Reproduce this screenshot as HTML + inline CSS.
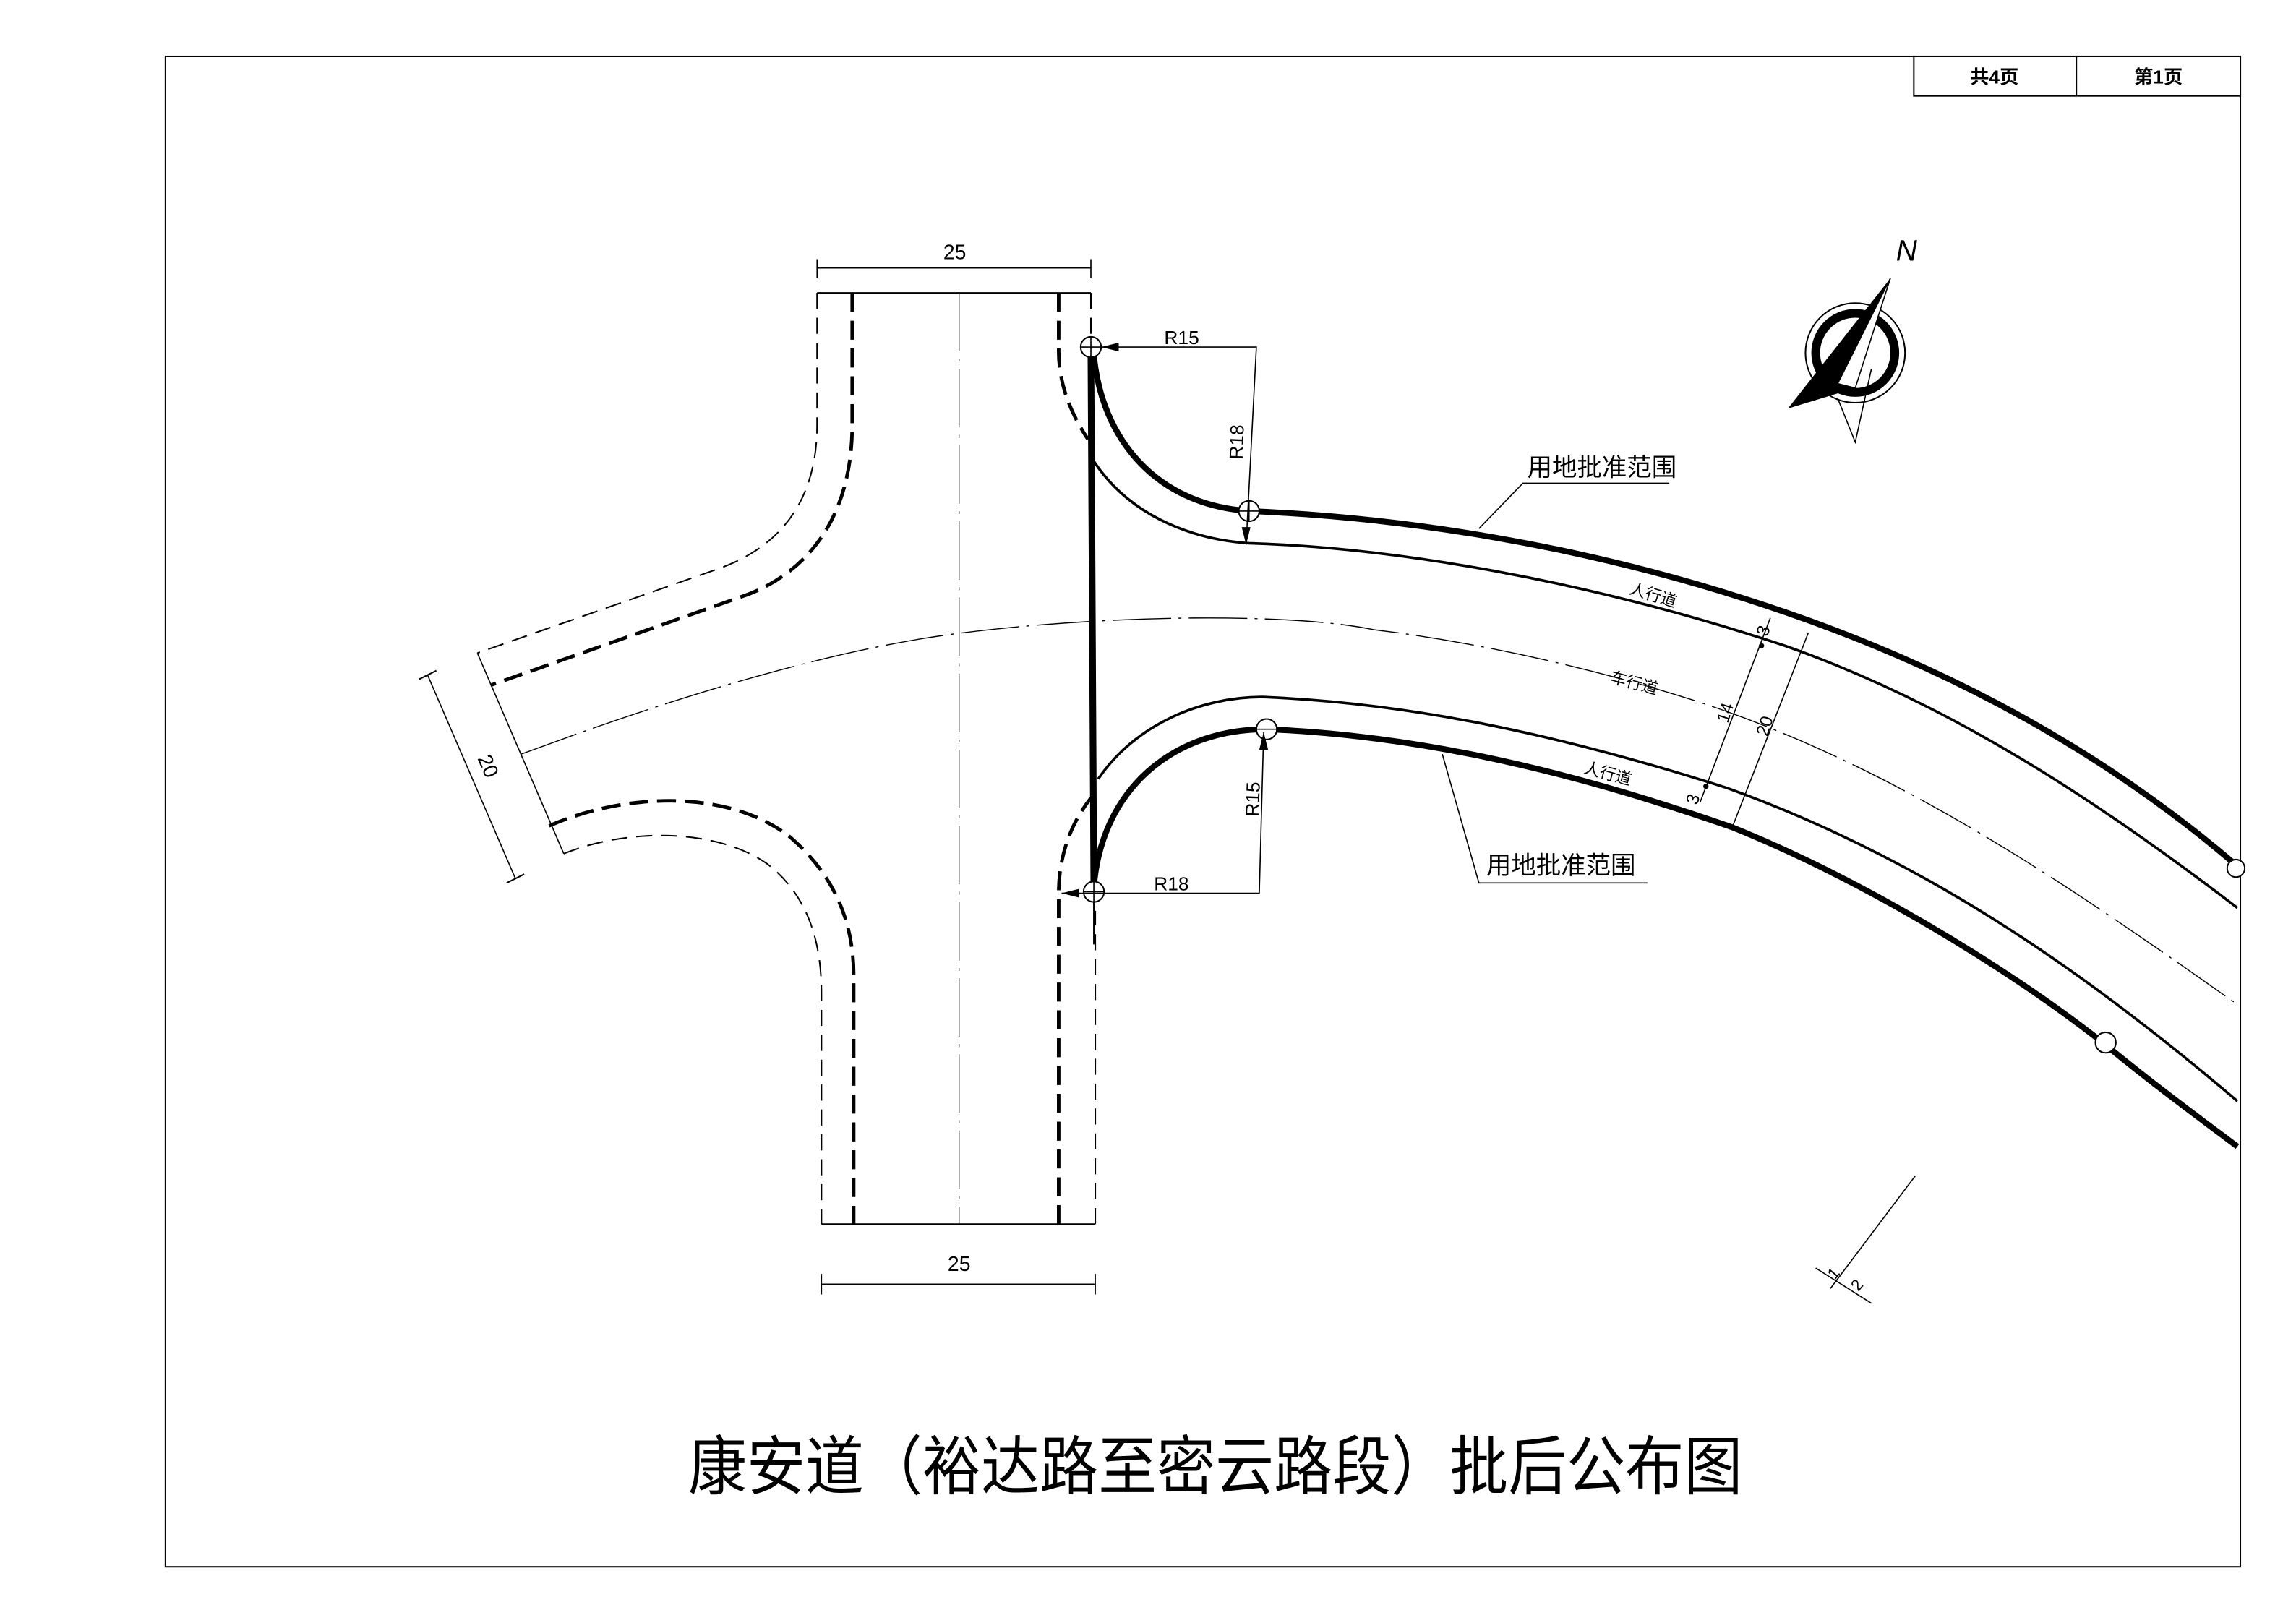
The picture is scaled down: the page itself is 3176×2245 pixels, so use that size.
<!DOCTYPE html>
<html><head><meta charset="utf-8"><style>
html,body{margin:0;padding:0;background:#fff;}
svg{display:block;}
text{font-family:"Liberation Sans","Noto Sans CJK SC",sans-serif;fill:#000;}
</style></head><body>
<svg width="3176" height="2245" viewBox="0 0 1568 1108.4" preserveAspectRatio="none" xmlns="http://www.w3.org/2000/svg">
<rect x="0" y="0" width="1568" height="1108.4" fill="#fff"/>
<rect x="113" y="38.5" width="1417" height="1031.5" fill="none" stroke="#000" stroke-width="1"/>
<rect x="1307" y="38.5" width="223" height="27" fill="none" stroke="#000" stroke-width="1"/>
<line x1="1418" y1="38.5" x2="1418" y2="65.5" stroke="#000" stroke-width="1"/>
<text x="1362" y="57" font-size="13" text-anchor="middle" font-weight="bold">共4页</text>
<text x="1474" y="57" font-size="13" text-anchor="middle" font-weight="bold">第1页</text>

<g fill="none" stroke="#000">
<line x1="558" y1="200" x2="745" y2="200" stroke-width="1"/>
<line x1="561" y1="836" x2="748" y2="836" stroke-width="1"/>
<line x1="655" y1="200" x2="655" y2="836" stroke-width="0.6" stroke-dasharray="40,5,2,5"/>
<line x1="558" y1="183" x2="745" y2="183" stroke-width="0.8"/>
<line x1="558" y1="177" x2="558" y2="190" stroke-width="0.8"/>
<line x1="745" y1="177" x2="745" y2="190" stroke-width="0.8"/>
<line x1="561" y1="877" x2="748" y2="877" stroke-width="0.8"/>
<line x1="561" y1="870" x2="561" y2="884" stroke-width="0.8"/>
<line x1="748" y1="870" x2="748" y2="884" stroke-width="0.8"/>
<path d="M558,200 L558,290 C558,345 530,375 489,389 L326,446" stroke-width="1" stroke-dasharray="11,6"/>
<path d="M582,200 L582,290 C582,360 545,395 505,408 L335,468" stroke-width="2.4" stroke-dasharray="13,6"/>
<path d="M375,564 C430,540 500,540 540,572 C570,598 583,630 583,666 L583,836" stroke-width="2.4" stroke-dasharray="13,6"/>
<path d="M385,583 C430,565 490,566 524,590 C550,610 561,640 561,678 L561,836" stroke-width="1" stroke-dasharray="11,6"/>
<path d="M326,446 L385,583" stroke-width="0.8"/>
<line x1="292" y1="461" x2="352" y2="600" stroke-width="0.8"/>
<line x1="286" y1="464" x2="298" y2="458" stroke-width="1"/>
<line x1="346" y1="603" x2="358" y2="597" stroke-width="1"/>
<path d="M723,200 L723,240 C723,262 731,282 743,300" stroke-width="2.4" stroke-dasharray="13,6"/>
<path d="M745,200 L745,232" stroke-width="1" stroke-dasharray="11,6"/>
<path d="M723,836 L723,610 C723,582 733,560 745,545" stroke-width="2.4" stroke-dasharray="13,6"/>
<path d="M748,836 L748,622" stroke-width="1" stroke-dasharray="11,6"/>
<path d="M356,515 C450,480 560,445 651,433 C750,420 880,418 938,430 C1020,440 1100,460 1159,479 C1300,525 1420,610 1528,686" stroke-width="0.7" stroke-dasharray="40,5,2,5"/>
<line x1="745" y1="240" x2="747" y2="606" stroke-width="4.5"/>
<line x1="747" y1="606" x2="747" y2="645" stroke-width="1"/>
<path d="M747,242 C752,300 790,345 853,349 C950,353 1080,370 1219,418 C1350,463 1450,525 1525,589" stroke-width="4"/>
<path d="M747,315 C770,350 810,368 853,371 C950,374 1080,395 1219,441 C1330,480 1430,545 1528,620" stroke-width="1.8"/>
<path d="M750,532 C775,495 820,476 862,476 C960,480 1060,500 1179,538 C1310,585 1420,660 1528,752" stroke-width="1.8"/>
<path d="M747,606 C752,540 800,498 865,498 C960,502 1060,522 1183,565 C1270,600 1370,660 1436,712 C1470,740 1500,762 1528,783" stroke-width="4"/>
<g stroke-width="1" fill="#fff">
<circle cx="745" cy="237" r="7"/><circle cx="853" cy="349" r="7"/>
<circle cx="865" cy="498" r="7"/><circle cx="747" cy="609" r="7"/>
<circle cx="1527" cy="593" r="6"/><circle cx="1438" cy="712" r="7"/>
</g>
<g stroke-width="0.8">
<line x1="738" y1="237" x2="752" y2="237"/><line x1="745" y1="230" x2="745" y2="244"/>
<line x1="846" y1="349" x2="860" y2="349"/><line x1="853" y1="342" x2="853" y2="356"/>
<line x1="858" y1="498" x2="872" y2="498"/>
<line x1="740" y1="609" x2="754" y2="609"/><line x1="747" y1="602" x2="747" y2="616"/>
<polyline points="752,237 858,237 851,372"/>
<polyline points="725,610 860,610 863,500"/>
</g>
</g>
<g fill="#000">
<polygon points="752,237 764,234 764,240"/>
<polygon points="851,372 848,360 854,360"/>
<polygon points="863,500 860,512 866,512"/>
<polygon points="725,610 737,607 737,613"/>
</g>
<text x="807" y="235" font-size="13" text-anchor="middle">R15</text>
<text x="800" y="608" font-size="13" text-anchor="middle">R18</text>
<text transform="translate(849,302) rotate(-88)" font-size="13" text-anchor="middle">R18</text>
<text transform="translate(860,546) rotate(-88)" font-size="13" text-anchor="middle">R15</text>
<text x="652" y="177" font-size="14" text-anchor="middle">25</text>
<text x="655" y="868" font-size="14" text-anchor="middle">25</text>
<text transform="translate(329,525) rotate(67)" font-size="14" text-anchor="middle">20</text>

<g stroke="#000" fill="none" stroke-width="0.8">
<line x1="1209" y1="422" x2="1161" y2="548"/>
<line x1="1235" y1="432" x2="1183" y2="565"/>
</g>
<circle cx="1203" cy="441" r="1.8"/><circle cx="1165" cy="537" r="1.8"/>
<text transform="translate(1208,432) rotate(-72)" font-size="12" text-anchor="middle">3</text>
<text transform="translate(1182,488) rotate(-72)" font-size="12" text-anchor="middle">14</text>
<text transform="translate(1209,497) rotate(-72)" font-size="12" text-anchor="middle">20</text>
<text transform="translate(1160,547) rotate(-72)" font-size="12" text-anchor="middle">3</text>
<text transform="translate(1128,410) rotate(17)" font-size="11" text-anchor="middle">人行道</text>
<text transform="translate(1115,470) rotate(15)" font-size="11" text-anchor="middle">车行道</text>
<text transform="translate(1097,532) rotate(15)" font-size="11" text-anchor="middle">人行道</text>
<g stroke="#000" fill="none" stroke-width="0.8">
<polyline points="1010,361 1040,330 1140,330"/>
<polyline points="985,515 1010,603 1125,603"/>
</g>
<text x="1094" y="325" font-size="17" text-anchor="middle">用地批准范围</text>
<text x="1066" y="597" font-size="17" text-anchor="middle">用地批准范围</text>

<circle cx="1267" cy="241" r="34" fill="none" stroke="#000" stroke-width="1"/>
<circle cx="1267" cy="241" r="27" fill="none" stroke="#000" stroke-width="6"/>
<polygon points="1291,190 1221,279 1267,265" fill="#000"/>
<polygon points="1291,190 1267,265 1255,262" fill="#fff" stroke="#000" stroke-width="0.8"/>
<polyline points="1255,272 1267,302 1278,252" fill="none" stroke="#000" stroke-width="0.8"/>
<text x="1302" y="178" font-size="20" font-style="italic" text-anchor="middle" font-family="Liberation Serif,serif">N</text>

<g stroke="#000" stroke-width="0.8">
<line x1="1308" y1="803" x2="1250" y2="880"/>
<line x1="1240" y1="866" x2="1278" y2="890"/>
</g>
<text transform="translate(1255,872) rotate(-50)" font-size="11" text-anchor="middle">1</text>
<text transform="translate(1271,880) rotate(-50)" font-size="11" text-anchor="middle">2</text>

<text x="830" y="1017" font-size="44" text-anchor="middle" textLength="720" lengthAdjust="spacingAndGlyphs" font-family="Liberation Serif,'Noto Serif CJK SC',serif">康安道（裕达路至密云路段）批后公布图</text>
</svg>
</body></html>
